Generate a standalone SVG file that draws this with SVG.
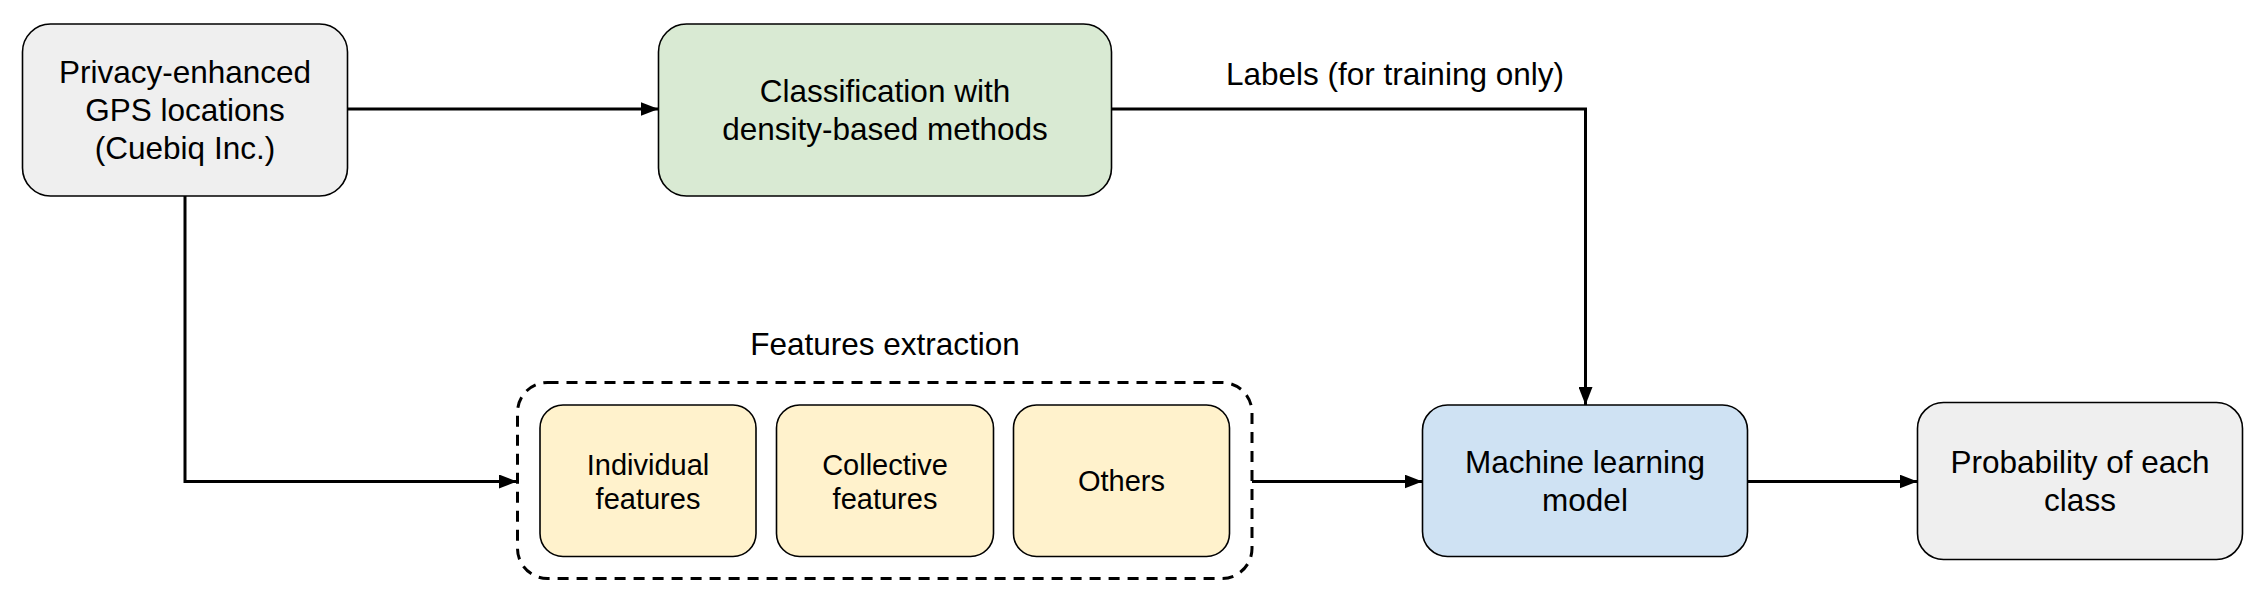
<svg xmlns="http://www.w3.org/2000/svg" width="2265" height="604" viewBox="0 0 2265 604">
  <style>
    .node { stroke: #000000; stroke-width: 1.6; }
    .big { font-family: "Liberation Sans", Arial, sans-serif; font-size: 31.5px; fill: #000000; text-anchor: middle; }
    .small { font-family: "Liberation Sans", Arial, sans-serif; font-size: 29px; fill: #000000; text-anchor: middle; }
    .conn { fill: none; stroke: #000000; stroke-width: 3; }
    .grey { fill: #efefef; }
    .green { fill: #d9ead3; }
    .yellow { fill: #fff2cc; }
    .blue { fill: #cfe2f3; }
  </style>
  <defs>
    <marker id="arrow" markerUnits="userSpaceOnUse" markerWidth="18" markerHeight="14" refX="18" refY="7" orient="auto">
      <path d="M0,0 L18,7 L0,14 z" fill="#000000"/>
    </marker>
  </defs>
  <rect width="2265" height="604" fill="#ffffff"/>

  <g id="connectors">
    <path class="conn" d="M348,109 H658.5" marker-end="url(#arrow)"/>
    <path class="conn" d="M185,196 V481.5 H517" marker-end="url(#arrow)"/>
    <path class="conn" d="M1111.5,109 H1585.5 V405" marker-end="url(#arrow)"/>
    <path class="conn" d="M1252,481.5 H1422.5" marker-end="url(#arrow)"/>
    <path class="conn" d="M1748,481.5 H1917.5" marker-end="url(#arrow)"/>
  </g>

  <g id="gps">
    <rect class="node grey" x="22.5" y="24" width="325" height="172" rx="28" ry="28"/>
    <text class="big" x="185" y="83">Privacy-enhanced</text>
    <text class="big" x="185" y="121">GPS locations</text>
    <text class="big" x="185" y="158.5">(Cuebiq Inc.)</text>
  </g>

  <g id="classification">
    <rect class="node green" x="658.5" y="24" width="453" height="172" rx="28" ry="28"/>
    <text class="big" x="885" y="102">Classification with</text>
    <text class="big" x="885" y="139.5">density-based methods</text>
  </g>

  <g id="labels-text">
    <text class="big" x="1395" y="84.5">Labels (for training only)</text>
  </g>

  <g id="features-extraction">
    <text class="big" x="885" y="354.5">Features extraction</text>
    <rect x="517.5" y="382.5" width="734.5" height="196" rx="30" ry="30" fill="none" stroke="#000000" stroke-width="3" stroke-dasharray="11,8"/>
  </g>

  <g id="individual">
    <rect class="node yellow" x="540" y="405" width="216" height="151.5" rx="23" ry="23"/>
    <text class="small" x="648" y="474.5">Individual</text>
    <text class="small" x="648" y="509">features</text>
  </g>

  <g id="collective">
    <rect class="node yellow" x="776.5" y="405" width="217" height="151.5" rx="23" ry="23"/>
    <text class="small" x="885" y="474.5">Collective</text>
    <text class="small" x="885" y="509">features</text>
  </g>

  <g id="others">
    <rect class="node yellow" x="1013.5" y="405" width="216" height="151.5" rx="23" ry="23"/>
    <text class="small" x="1121.5" y="491">Others</text>
  </g>

  <g id="ml-model">
    <rect class="node blue" x="1422.5" y="405" width="325" height="151.5" rx="25" ry="25"/>
    <text class="big" x="1585" y="473">Machine learning</text>
    <text class="big" x="1585" y="510.5">model</text>
  </g>

  <g id="probability">
    <rect class="node grey" x="1917.5" y="402.5" width="325" height="157" rx="26" ry="26"/>
    <text class="big" x="2080" y="473">Probability of each</text>
    <text class="big" x="2080" y="510.5">class</text>
  </g>
</svg>
